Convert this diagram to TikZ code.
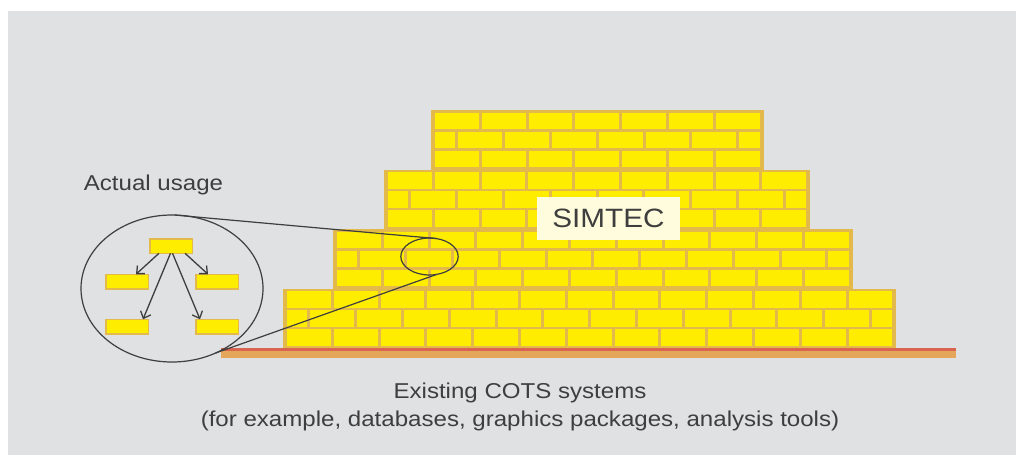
\documentclass[tikz,border=0pt]{standalone}
\usepackage{fontspec}
\setmainfont[FakeStretch=1.12]{Liberation Sans}
\usetikzlibrary{shapes.geometric,arrows.meta}
\definecolor{bgc}{RGB}{224,225,227}
\definecolor{mortar}{RGB}{226,185,74}
\definecolor{brickc}{RGB}{255,237,0}
\definecolor{groundr}{RGB}{217,100,80}
\definecolor{groundo}{RGB}{227,166,90}
\definecolor{labelbg}{RGB}{255,252,221}
\definecolor{ink}{RGB}{62,62,62}
\tikzset{
  txt/.style={text=ink, inner sep=0pt, outer sep=0pt},
  lens/.style={ellipse, draw=ink, line width=1.2pt, inner sep=0pt, outer sep=0pt},
  smallbrick/.style={rectangle, fill=brickc, draw=mortar, line width=1.5pt,
    minimum width=42.5pt, minimum height=14.5pt, inner sep=0pt, outer sep=0pt},
  arr/.style={draw=ink, line width=1.3pt, -{Straight Barb[length=6pt,width=11pt,line width=1.3pt]}},
  zoomline/.style={draw=ink, line width=1.2pt}
}
\begin{document}
\begin{tikzpicture}[x=1pt,y=-1pt]
\useasboundingbox (0,0) rectangle (1016,455);
\fill[white] (0,0) rectangle (1016,455);
\fill[bgc] (8,11) rectangle (1016,455);
% brick wall
\foreach \L/\T/\n in {431/110/7,384/169.5/9,333/229/11,283/288.5/13}{
  \fill[mortar] (\L,\T) rectangle ++({\n*46.8+5},59.5);
  \foreach \j in {1,...,\n}{
    \fill[brickc] ({\L+4+(\j-1)*46.8},{\T+2.7}) rectangle ++(43.8,16.3);
    \fill[brickc] ({\L+4+(\j-1)*46.8},{\T+40.7}) rectangle ++(43.8,16.3);
  }
  \fill[brickc] ({\L+4},{\T+21.7}) rectangle ++(20.4,16.3);
  \foreach \j in {2,...,\n}{
    \fill[brickc] ({\L+4+23.4+(\j-2)*46.8},{\T+21.7}) rectangle ++(43.8,16.3);
  }
  \fill[brickc] ({\L+4+23.4+(\n-1)*46.8},{\T+21.7}) rectangle ++(20.4,16.3);
}
% ground
\fill[groundr] (221,348) rectangle (956,351);
\fill[groundo] (221,351) rectangle (956,358);
% label
\node[txt, fill=labelbg, minimum width=143pt, minimum height=43pt,
  font=\fontsize{26.5}{30}\selectfont] (simtec) at (608.5,218.5) {SIMTEC};
% lens ellipses
\node[lens, minimum width=57.4pt, minimum height=37pt] (small) at (429.5,256.5) {};
\node[lens, minimum width=182pt, minimum height=147pt] (big) at (172,288.5) {};
\draw[zoomline] (big.88) -- (small.68);
\draw[zoomline] (big.-56) -- (small.-68);
% usage bricks
\node[smallbrick] (top) at (171,246) {};
\node[smallbrick] (ml) at (127,281.5) {};
\node[smallbrick] (mr) at (217,281.5) {};
\node[smallbrick] (bl) at (127,326.5) {};
\node[smallbrick] (br) at (217,326.5) {};
\draw[arr] ([xshift=-12pt]top.south) -- ([xshift=9pt]ml.north);
\draw[arr] ([xshift=14pt]top.south) -- ([xshift=-9pt]mr.north);
\draw[arr] ([xshift=-0.5pt]top.south) -- ([xshift=16pt]bl.north);
\draw[arr] ([xshift=1.5pt]top.south) -- ([xshift=-17pt]br.north);
% texts
\node[txt, anchor=base, font=\fontsize{21.5}{26}\selectfont] (usage) at (153.5,190) {Actual usage};
\node[txt, anchor=base, font=\fontsize{21.5}{26}\selectfont] (cots1) at (520,398) {Existing COTS systems};
\node[txt, anchor=base, font=\fontsize{21.5}{26}\selectfont] (cots2) at (520,426) {(for example, databases, graphics packages, analysis tools)};
\end{tikzpicture}
\end{document}
